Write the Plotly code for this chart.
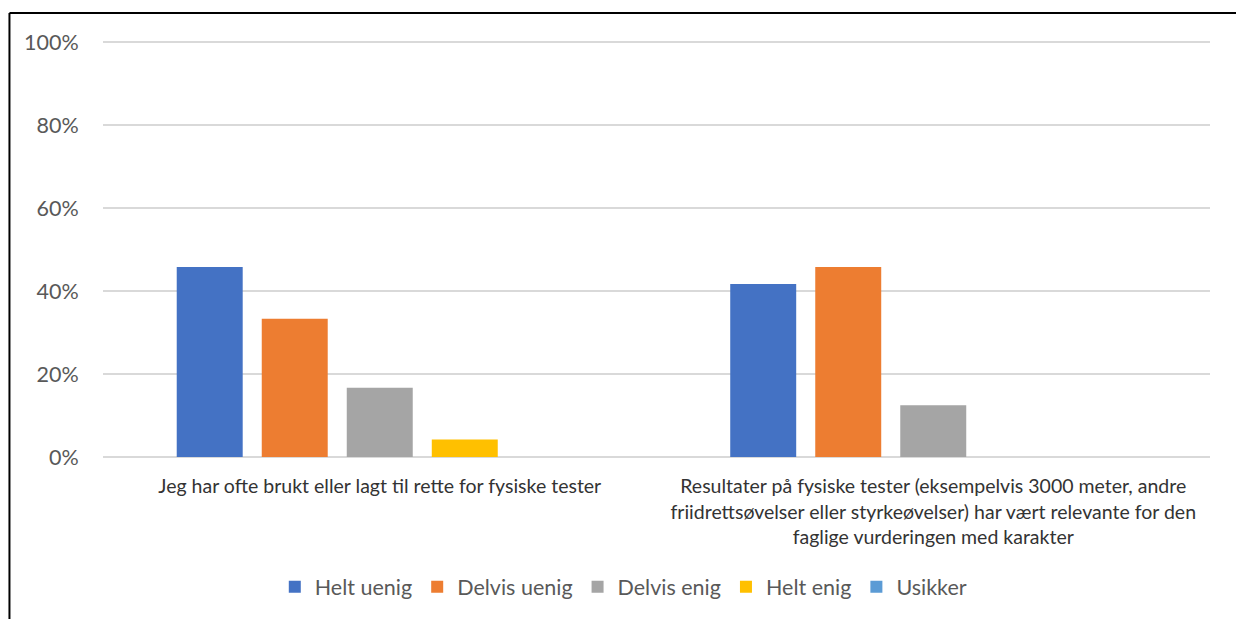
import plotly.graph_objects as go

# Survey statements (x categories)
categories = [
    "Jeg har ofte brukt eller lagt til rette for fysiske tester",
    "Resultater på fysiske tester (eksempelvis 3000 meter, andre<br>"
    "friidrettsøvelser eller styrkeøvelser) har vært relevante for den<br>"
    "faglige vurderingen med karakter",
]

# Share of respondents per answer option
helt_uenig = [0.458, 0.417]
delvis_uenig = [0.333, 0.458]
delvis_enig = [0.167, 0.125]
helt_enig = [0.042, 0.0]
usikker = [0.0, 0.0]

series = [
    ("Helt uenig", helt_uenig, "#4472C4"),
    ("Delvis uenig", delvis_uenig, "#ED7D31"),
    ("Delvis enig", delvis_enig, "#A5A5A5"),
    ("Helt enig", helt_enig, "#FFC000"),
    ("Usikker", usikker, "#5B9BD5"),
]

y_ticks = [0, 0.2, 0.4, 0.6, 0.8, 1.0]
y_tick_labels = ["0%", "20%", "40%", "60%", "80%", "100%"]

font_family = "Lato, 'Liberation Sans', sans-serif"
text_color = "#595959"

fig = go.Figure()
for name, values, color in series:
    fig.add_trace(go.Bar(
        name=name,
        x=categories,
        y=values,
        marker=dict(color=color, line=dict(width=0)),
    ))

fig.update_layout(
    width=1236,
    height=619,
    barmode="group",
    bargap=0.232,
    bargroupgap=0.224,
    plot_bgcolor="white",
    paper_bgcolor="white",
    margin=dict(l=103, r=26, t=38, b=162),
    font=dict(family=font_family, size=16, color=text_color),
    showlegend=True,
    legend=dict(
        orientation="h",
        x=0.47,
        xanchor="center",
        y=-0.31,
        yanchor="middle",
        font=dict(size=21.5, color=text_color),
        itemwidth=30,
        traceorder="normal",
    ),
    xaxis=dict(
        showgrid=False,
        showline=False,
        ticks="outside",
        ticklen=12,
        tickcolor="white",
        tickfont=dict(size=19.5, color="#333333"),
    ),
    yaxis=dict(
        range=[0, 1.01],
        tickvals=y_ticks,
        ticktext=y_tick_labels,
        showgrid=True,
        gridcolor="#D9D9D9",
        gridwidth=2,
        zeroline=True,
        zerolinecolor="#D9D9D9",
        zerolinewidth=2,
        showline=False,
        ticks="outside",
        ticklen=19,
        tickcolor="white",
        tickfont=dict(size=21.5, color=text_color),
    ),
    shapes=[
        # frame lines at the top and left edges
        dict(type="line", xref="paper", yref="paper",
             x0=-0.0845, x1=1.03, y0=1.0597, y1=1.0597,
             line=dict(color="black", width=2)),
        dict(type="line", xref="paper", yref="paper",
             x0=-0.0845, x1=-0.0845, y0=1.0597, y1=-0.4,
             line=dict(color="black", width=2)),
    ],
)

fig.write_html("out.html")
